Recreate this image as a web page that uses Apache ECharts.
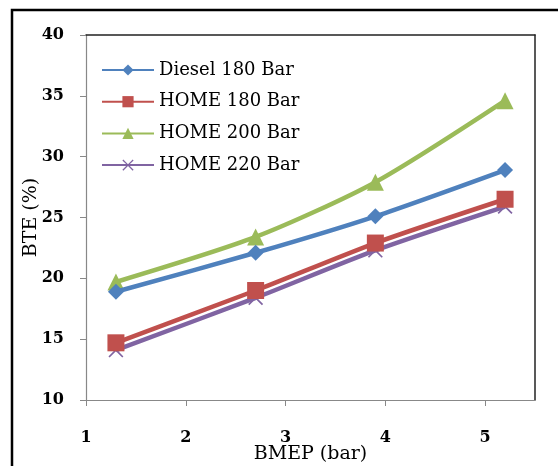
<!DOCTYPE html>
<html>
<head>
<meta charset="utf-8">
<script src="https://cdn.jsdelivr.net/npm/echarts@6/dist/echarts.min.js"></script>
<style>html,body{margin:0;padding:0;background:#fff}#c{width:558px;height:466px}</style>
</head>
<body>
<div id="c"></div>
<script>
var bmep = [1.3, 2.7, 3.9, 5.2];
var diesel180 = [18.9, 22.1, 25.1, 28.9];
var home180 = [14.7, 19.0, 22.9, 26.5];
var home200 = [19.7, 23.4, 27.9, 34.6];
var home220 = [14.1, 18.4, 22.3, 25.9];
var seriesNames = ['Diesel 180 Bar', 'HOME 180 Bar', 'HOME 200 Bar', 'HOME 220 Bar'];
var xTicks = [1, 2, 3, 4, 5];
var yTicks = [10, 15, 20, 25, 30, 35, 40];

function pairs(ys) { return bmep.map(function (x, i) { return [x, ys[i]]; }); }

var font = '"DejaVu Serif", "Liberation Serif", serif';
var crossPath = 'path://M0,0.8 L0.8,0 L5,4.2 L9.2,0 L10,0.8 L5.8,5 L10,9.2 L9.2,10 L5,5.8 L0.8,10 L0,9.2 L4.2,5 Z';

var colors = ['#4F81BD', '#C0504D', '#9BBB59', '#8064A2'];
var symbols = ['diamond', 'rect', 'triangle', crossPath];
var sizes = [16, 17, 17, 15];
var datasets = [diesel180, home180, home200, home220];

var chart = echarts.init(document.getElementById('c'), null, { renderer: 'canvas' });
var series = datasets.map(function (d, i) {
  return {
    name: seriesNames[i],
    type: 'line',
    data: pairs(d),
    smooth: 0.25,
    symbol: symbols[i],
    symbolSize: sizes[i],
    showAllSymbol: true,
    lineStyle: { color: colors[i], width: 4.5 },
    itemStyle: { color: colors[i] },
    z: 3 + (3 - i)
  };
});

chart.setOption({
  animation: false,
  backgroundColor: '#fff',
  grid: { left: 86, right: 23, top: 35, bottom: 66, outerBoundsMode: 'none', containLabel: false },
  legend: {
    orient: 'vertical',
    left: 96,
    top: 56,
    itemWidth: 52,
    itemHeight: 14,
    itemGap: 13.7,
    textStyle: { fontFamily: font, fontSize: 18, color: '#000' },
    data: seriesNames
  },
  xAxis: [{
    type: 'value', min: 1, max: 5.5, interval: 1,
    name: 'BMEP (bar)', nameLocation: 'middle', nameGap: 45, nameMoveOverlap: false,
    nameTextStyle: { fontFamily: font, fontSize: 19, color: '#000' },
    axisLine: { show: true, onZero: false, lineStyle: { color: '#888', width: 1.2 } },
    axisTick: { show: true, inside: false, length: 6, lineStyle: { color: '#888' } },
    axisLabel: {
      margin: 30, fontFamily: font, fontWeight: 'bold', fontSize: 16, color: '#000',
      showMaxLabel: false,
      formatter: function (v) { return xTicks.indexOf(v) >= 0 ? String(v) : ''; }
    },
    splitLine: { show: false }
  }, {
    type: 'value', min: 1, max: 5.5, position: 'top',
    axisLine: { show: true, lineStyle: { color: '#222', width: 1.5 } },
    axisTick: { show: false }, axisLabel: { show: false }, splitLine: { show: false }
  }],
  yAxis: [{
    type: 'value', min: 10, max: 40, interval: 5,
    name: 'BTE (%)', nameLocation: 'middle', nameGap: 45, nameRotate: 90, nameMoveOverlap: false,
    nameTextStyle: { fontFamily: font, fontSize: 19, color: '#000' },
    axisLine: { show: true, lineStyle: { color: '#888', width: 1.2 } },
    axisTick: { show: true, inside: false, length: 6, lineStyle: { color: '#888' } },
    axisLabel: {
      margin: 22, fontFamily: font, fontWeight: 'bold', fontSize: 16, color: '#000',
      formatter: function (v) { return yTicks.indexOf(v) >= 0 ? String(v) : ''; }
    },
    splitLine: { show: false }
  }, {
    type: 'value', min: 10, max: 40, position: 'right',
    axisLine: { show: true, lineStyle: { color: '#222', width: 1.5 } },
    axisTick: { show: false }, axisLabel: { show: false }, splitLine: { show: false }
  }],
  graphic: [{
    type: 'rect',
    shape: { x: 12, y: 10, width: 600, height: 500 },
    style: { fill: null, stroke: '#000', lineWidth: 2.5 },
    silent: true, z: 100
  }],
  series: series
});
</script>
</body>
</html>
